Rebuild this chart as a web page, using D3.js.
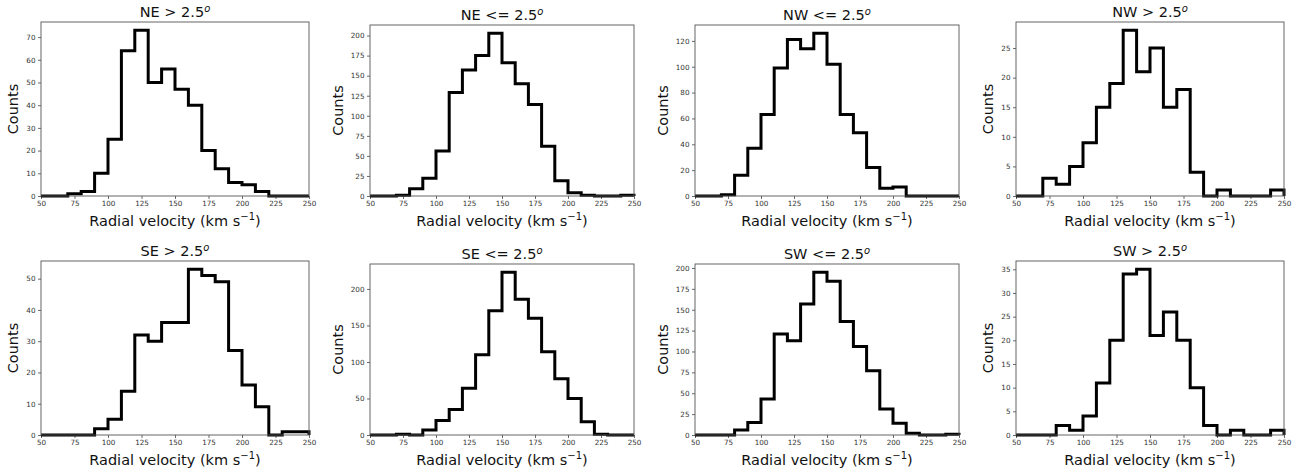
<!DOCTYPE html>
<html>
<head>
<meta charset="utf-8">
<script src="https://cdn.jsdelivr.net/npm/d3@7"></script>
<style>
  body { margin: 0; background: #fff; }
  svg { display: block; font-family: "DejaVu Sans", sans-serif; }
</style>
</head>
<body>
<div id="chart"></div>
<script>
// Bin edges shared by every panel (10 km/s bins, 50 to 250)
var binEdges = d3.range(50, 251, 10);
var xTicks = [50, 75, 100, 125, 150, 175, 200, 225, 250];

// Panel titles, in reading order
var regions = ["NE", "NE", "NW", "NW", "SE", "SE", "SW", "SW"];
var cuts = [" > ", " <= ", " <= ", " > ", " > ", " <= ", " <= ", " > "];

// Counts per bin
var neOuter = [0, 0, 1, 2, 10, 25, 64, 73, 50, 56, 47, 40, 20, 12, 6, 5, 2, 0, 0, 0];
var neInner = [0, 0, 1, 9, 22, 56, 129, 157, 175, 203, 166, 140, 114, 62, 19, 4, 1, 0, 0, 1];
var nwInner = [0, 0, 1, 16, 37, 63, 99, 121, 114, 126, 102, 63, 49, 22, 6, 7, 0, 0, 0, 0];
var nwOuter = [0, 0, 3, 2, 5, 9, 15, 19, 28, 21, 25, 15, 18, 4, 0, 1, 0, 0, 0, 1];
var seOuter = [0, 0, 0, 0, 2, 5, 14, 32, 30, 36, 36, 53, 51, 49, 27, 16, 9, 0, 1, 1];
var seInner = [0, 0, 1, 0, 7, 20, 35, 64, 110, 170, 223, 186, 160, 114, 77, 50, 18, 1, 0, 0];
var swInner = [0, 0, 0, 6, 15, 43, 121, 113, 157, 195, 184, 136, 106, 77, 31, 14, 2, 0, 0, 1];
var swOuter = [0, 0, 0, 2, 1, 4, 11, 20, 34, 35, 21, 26, 20, 10, 2, 0, 1, 0, 0, 1];

var series = [neOuter, neInner, nwInner, nwOuter, seOuter, seInner, swInner, swOuter];
var yTickSteps = [10, 25, 20, 5, 10, 50, 25, 5];

var W = 1303, H = 474;
var svg = d3.select("#chart").append("svg")
    .attr("width", W)
    .attr("height", H);

var colX = [0, 325, 650, 975];
var rowY = [0, 239];

series.forEach(function(counts, i) {
    var col = i % 4, row = Math.floor(i / 4);
    var ymax = d3.max(counts) * 1.05;
    var wide = d3.max(counts) >= 100;   // 3-digit tick labels shrink the panel a little
    var left = colX[col] + (wide ? 45 : 41);
    var right = colX[col] + 309;
    var top = rowY[row] + (wide ? 25 : 22);
    var bottom = rowY[row] + 196;

    var x = d3.scaleLinear().domain([50, 250]).range([left, right]);
    var y = d3.scaleLinear().domain([0, ymax]).range([bottom, top]);

    var g = svg.append("g").attr("class", "panel");

    // Axes
    var xAxis = d3.axisBottom(x).tickValues(xTicks).tickSize(3).tickPadding(2);
    var yAxis = d3.axisLeft(y)
        .tickValues(d3.range(0, ymax, yTickSteps[i]))
        .tickFormat(d3.format("d"))
        .tickSize(3).tickPadding(2.5);

    var gx = g.append("g").attr("transform", "translate(0," + bottom + ")").call(xAxis);
    var gy = g.append("g").attr("transform", "translate(" + left + ",0)").call(yAxis);
    [gx, gy].forEach(function(a) {
        a.select(".domain").remove();
        a.selectAll(".tick line").attr("stroke", "#444").attr("stroke-width", 0.8);
        a.selectAll(".tick text")
            .attr("fill", "#333")
            .style("font-size", "7.2px")
            .style("font-family", "DejaVu Sans");
    });

    // Step outline of the histogram
    var pts = [[binEdges[0], 0]];
    counts.forEach(function(c, k) {
        pts.push([binEdges[k], c]);
        pts.push([binEdges[k + 1], c]);
    });
    pts.push([binEdges[binEdges.length - 1], 0]);

    var line = d3.line()
        .x(function(d) { return x(d[0]); })
        .y(function(d) { return y(d[1]); });

    g.append("path")
        .datum(pts)
        .attr("d", line)
        .attr("fill", "none")
        .attr("stroke", "#000")
        .attr("stroke-width", 3)
        .attr("stroke-linejoin", "miter");

    // Frame
    g.append("rect")
        .attr("x", left).attr("y", top)
        .attr("width", right - left).attr("height", bottom - top)
        .attr("fill", "none")
        .attr("stroke", "#555")
        .attr("stroke-width", 0.9);

    // Title with superscript degree "o"
    var title = g.append("text")
        .attr("x", (left + right) / 2)
        .attr("y", top - 5)
        .attr("text-anchor", "middle")
        .style("font-size", "14.5px")
        .attr("fill", "#111");
    title.append("tspan").text(regions[i] + cuts[i] + "2.5");
    title.append("tspan").attr("dy", -5).style("font-size", "10px").style("font-style", "italic").text("o");

    // X label
    var xl = g.append("text")
        .attr("x", (left + right) / 2)
        .attr("y", bottom + 30)
        .attr("text-anchor", "middle")
        .style("font-size", "14.5px")
        .attr("fill", "#111");
    xl.append("tspan").text("Radial velocity (km s");
    xl.append("tspan").attr("dy", -6).style("font-size", "10px").text("\u22121");
    xl.append("tspan").attr("dy", 6).text(")");

    // Y label
    g.append("text")
        .attr("transform", "translate(" + (colX[col] + 18) + "," + ((top + bottom) / 2) + ") rotate(-90)")
        .attr("text-anchor", "middle")
        .style("font-size", "14.5px")
        .attr("fill", "#111")
        .text("Counts");
});
</script>
</body>
</html>
